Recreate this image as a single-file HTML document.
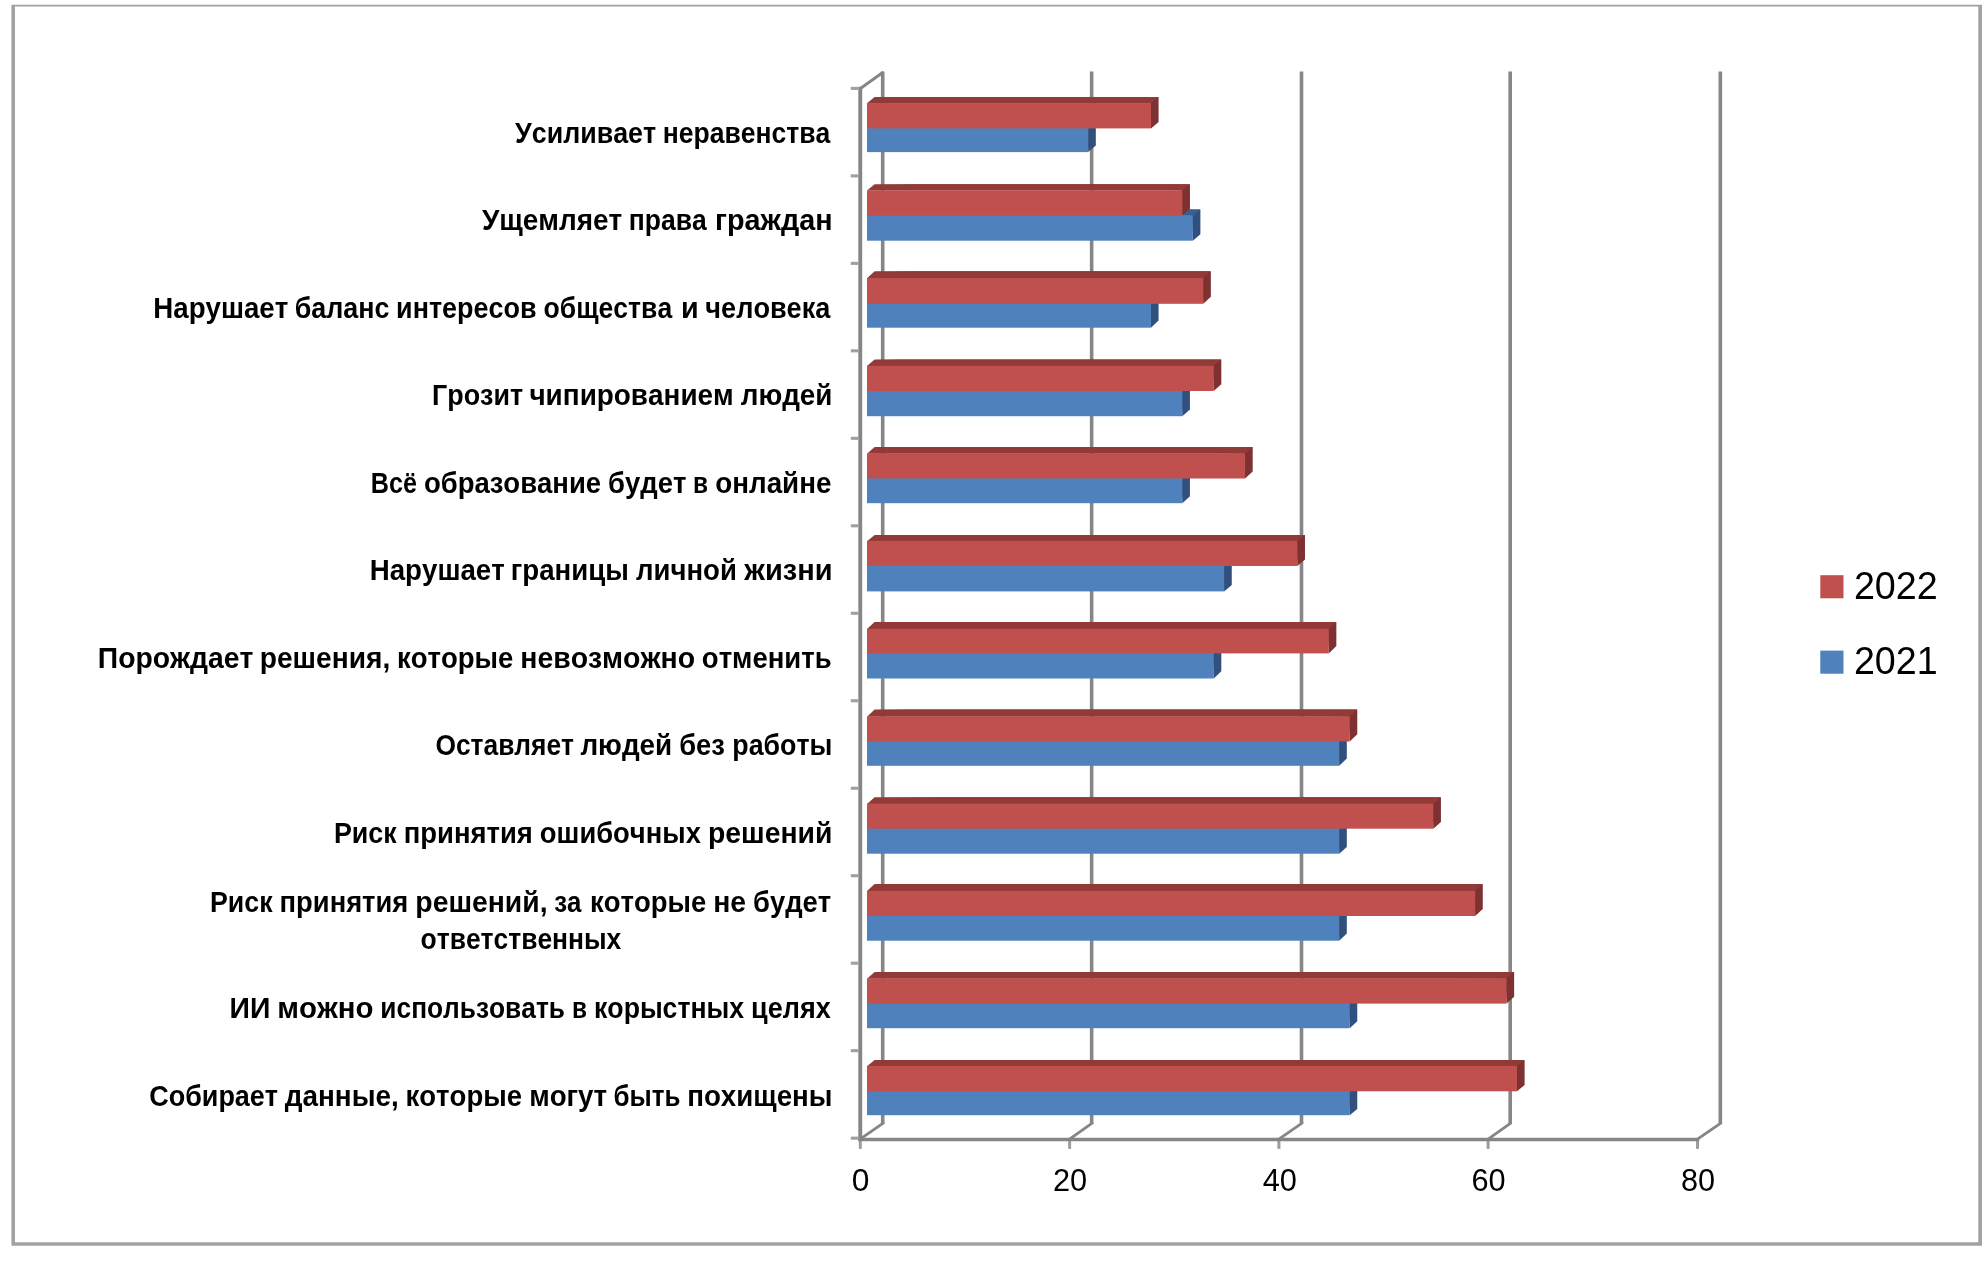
<!DOCTYPE html>
<html lang="ru"><head><meta charset="utf-8"><title>Диаграмма</title>
<style>html,body{margin:0;padding:0;background:#fff}body{width:1984px;height:1264px;overflow:hidden}svg{display:block;will-change:transform}</style>
</head><body>
<svg width="1984" height="1264" viewBox="0 0 1984 1264">
<rect x="0" y="0" width="1984" height="1264" fill="#fff"/>
<path fill="#A2A2A2" fill-rule="evenodd" d="M11.4,4.8H1982V1245.8H11.4Z M15,6.6V1242.3H1978.3V6.6Z"/>
<g fill="none" stroke="#868686" stroke-width="3.6" stroke-linecap="butt">
<path d="M882.70,71.40 V1123.70"/>
<path d="M883.20,1123.10 L860.10,1139.10" stroke-width="2.9" stroke-linecap="round"/>
<path d="M1091.65,71.40 V1123.70"/>
<path d="M1092.15,1123.10 L1069.60,1139.10" stroke-width="2.9" stroke-linecap="round"/>
<path d="M1069.60,1141.00 V1148.9" stroke-width="3" stroke="#9C9C9C"/>
<path d="M1301.50,71.40 V1123.70"/>
<path d="M1302.00,1123.10 L1278.90,1139.10" stroke-width="2.9" stroke-linecap="round"/>
<path d="M1278.90,1141.00 V1148.9" stroke-width="3" stroke="#9C9C9C"/>
<path d="M1510.20,71.40 V1123.70"/>
<path d="M1510.70,1123.10 L1488.10,1139.10" stroke-width="2.9" stroke-linecap="round"/>
<path d="M1488.10,1141.00 V1148.9" stroke-width="3" stroke="#9C9C9C"/>
<path d="M1720.30,71.40 V1123.70"/>
<path d="M1720.80,1123.10 L1697.50,1139.10" stroke-width="2.9" stroke-linecap="round"/>
<path d="M1697.50,1141.00 V1148.9" stroke-width="3" stroke="#9C9C9C"/>
<path d="M860.70,88.20 L882.40,72.80" stroke-width="2.9" stroke-linecap="round"/>
<path d="M860.25,86.80 V1141.00" stroke-width="3.9"/>
<path d="M860.30,1141.00 V1148.9" stroke-width="3" stroke="#9C9C9C"/>
<path d="M858.40,1139.50 H1699.20"/>
<path d="M850.8,88.40 H858.60" stroke-width="3.1" stroke="#A0A0A0"/>
<path d="M850.8,175.88 H858.60" stroke-width="3.1" stroke="#A0A0A0"/>
<path d="M850.8,263.36 H858.60" stroke-width="3.1" stroke="#A0A0A0"/>
<path d="M850.8,350.84 H858.60" stroke-width="3.1" stroke="#A0A0A0"/>
<path d="M850.8,438.32 H858.60" stroke-width="3.1" stroke="#A0A0A0"/>
<path d="M850.8,525.80 H858.60" stroke-width="3.1" stroke="#A0A0A0"/>
<path d="M850.8,613.28 H858.60" stroke-width="3.1" stroke="#A0A0A0"/>
<path d="M850.8,700.76 H858.60" stroke-width="3.1" stroke="#A0A0A0"/>
<path d="M850.8,788.24 H858.60" stroke-width="3.1" stroke="#A0A0A0"/>
<path d="M850.8,875.72 H858.60" stroke-width="3.1" stroke="#A0A0A0"/>
<path d="M850.8,963.20 H858.60" stroke-width="3.1" stroke="#A0A0A0"/>
<path d="M850.8,1050.68 H858.60" stroke-width="3.1" stroke="#A0A0A0"/>
<path d="M850.8,1138.16 H858.60" stroke-width="3.1" stroke="#A0A0A0"/>
</g>
<g>
<polygon points="874.30,122.32 1095.82,122.32 1095.82,145.62 1088.22,152.10 1087.22,128.40" fill="#32507D"/><polygon points="867.0,128.70 874.6,122.32 1095.62,122.32 1088.22,128.70" fill="#3A5F8C"/><rect x="867.0" y="128.40" width="221.22" height="23.70" fill="#4F81BD"/>
<rect x="867.0" y="126.90" width="221.22" height="3" fill="#4F81BD"/>
<polygon points="874.30,96.96 1158.57,96.96 1158.57,121.92 1150.97,128.40 1149.97,103.04" fill="#7D3131"/><polygon points="867.0,103.34 874.6,96.96 1158.37,96.96 1150.97,103.34" fill="#913A38"/><rect x="867.0" y="103.04" width="283.97" height="25.36" fill="#C0504D"/>
<polygon points="874.30,209.40 1200.40,209.40 1200.40,234.20 1192.80,240.70 1191.80,215.50" fill="#32507D"/><polygon points="867.0,215.80 874.6,209.40 1200.20,209.40 1192.80,215.80" fill="#3A5F8C"/><rect x="867.0" y="215.50" width="325.80" height="25.20" fill="#4F81BD"/>
<rect x="867.0" y="214.00" width="315.34" height="3" fill="#4F81BD"/>
<polygon points="874.30,184.20 1189.94,184.20 1189.94,209.00 1182.34,215.50 1181.34,190.30" fill="#7D3131"/><polygon points="867.0,190.60 874.6,184.20 1189.74,184.20 1182.34,190.60" fill="#913A38"/><rect x="867.0" y="190.30" width="315.34" height="25.20" fill="#C0504D"/>
<polygon points="874.30,297.10 1158.57,297.10 1158.57,320.60 1150.97,327.70 1149.97,303.80" fill="#32507D"/><polygon points="867.0,304.10 874.6,297.10 1158.37,297.10 1150.97,304.10" fill="#3A5F8C"/><rect x="867.0" y="303.80" width="283.97" height="23.90" fill="#4F81BD"/>
<rect x="867.0" y="302.30" width="283.97" height="3" fill="#4F81BD"/>
<polygon points="874.30,271.30 1210.86,271.30 1210.86,296.70 1203.26,303.80 1202.26,278.00" fill="#7D3131"/><polygon points="867.0,278.30 874.6,271.30 1210.66,271.30 1203.26,278.30" fill="#913A38"/><rect x="867.0" y="278.00" width="336.26" height="25.80" fill="#C0504D"/>
<polygon points="874.30,384.70 1189.94,384.70 1189.94,409.50 1182.34,416.20 1181.34,391.00" fill="#32507D"/><polygon points="867.0,391.30 874.6,384.70 1189.74,384.70 1182.34,391.30" fill="#3A5F8C"/><rect x="867.0" y="391.00" width="315.34" height="25.20" fill="#4F81BD"/>
<rect x="867.0" y="389.50" width="315.34" height="3" fill="#4F81BD"/>
<polygon points="874.30,359.50 1221.31,359.50 1221.31,384.30 1213.71,391.00 1212.71,365.80" fill="#7D3131"/><polygon points="867.0,366.10 874.6,359.50 1221.11,359.50 1213.71,366.10" fill="#913A38"/><rect x="867.0" y="365.80" width="346.71" height="25.20" fill="#C0504D"/>
<polygon points="874.30,472.00 1189.94,472.00 1189.94,496.30 1182.34,503.20 1181.34,478.50" fill="#32507D"/><polygon points="867.0,478.80 874.6,472.00 1189.74,472.00 1182.34,478.80" fill="#3A5F8C"/><rect x="867.0" y="478.50" width="315.34" height="24.70" fill="#4F81BD"/>
<rect x="867.0" y="477.00" width="315.34" height="3" fill="#4F81BD"/>
<polygon points="874.30,447.00 1252.69,447.00 1252.69,471.60 1245.09,478.50 1244.09,453.50" fill="#7D3131"/><polygon points="867.0,453.80 874.6,447.00 1252.49,447.00 1245.09,453.80" fill="#913A38"/><rect x="867.0" y="453.50" width="378.09" height="25.00" fill="#C0504D"/>
<polygon points="874.30,560.00 1231.77,560.00 1231.77,585.00 1224.17,591.40 1223.17,566.00" fill="#32507D"/><polygon points="867.0,566.30 874.6,560.00 1231.57,560.00 1224.17,566.30" fill="#3A5F8C"/><rect x="867.0" y="566.00" width="357.17" height="25.40" fill="#4F81BD"/>
<rect x="867.0" y="564.50" width="357.17" height="3" fill="#4F81BD"/>
<polygon points="874.30,534.90 1304.98,534.90 1304.98,559.60 1297.38,566.00 1296.38,540.90" fill="#7D3131"/><polygon points="867.0,541.20 874.6,534.90 1304.78,534.90 1297.38,541.20" fill="#913A38"/><rect x="867.0" y="540.90" width="430.38" height="25.10" fill="#C0504D"/>
<polygon points="874.30,646.50 1221.31,646.50 1221.31,671.20 1213.71,678.50 1212.71,653.40" fill="#32507D"/><polygon points="867.0,653.70 874.6,646.50 1221.11,646.50 1213.71,653.70" fill="#3A5F8C"/><rect x="867.0" y="653.40" width="346.71" height="25.10" fill="#4F81BD"/>
<rect x="867.0" y="651.90" width="346.71" height="3" fill="#4F81BD"/>
<polygon points="874.30,621.90 1336.35,621.90 1336.35,646.10 1328.75,653.40 1327.75,628.80" fill="#7D3131"/><polygon points="867.0,629.10 874.6,621.90 1336.15,621.90 1328.75,629.10" fill="#913A38"/><rect x="867.0" y="628.80" width="461.75" height="24.60" fill="#C0504D"/>
<polygon points="874.30,734.60 1346.81,734.60 1346.81,758.50 1339.21,765.80 1338.21,741.50" fill="#32507D"/><polygon points="867.0,741.80 874.6,734.60 1346.61,734.60 1339.21,741.80" fill="#3A5F8C"/><rect x="867.0" y="741.50" width="472.21" height="24.30" fill="#4F81BD"/>
<rect x="867.0" y="740.00" width="472.21" height="3" fill="#4F81BD"/>
<polygon points="874.30,709.60 1357.27,709.60 1357.27,734.20 1349.67,741.50 1348.67,716.50" fill="#7D3131"/><polygon points="867.0,716.80 874.6,709.60 1357.07,709.60 1349.67,716.80" fill="#913A38"/><rect x="867.0" y="716.50" width="482.67" height="25.00" fill="#C0504D"/>
<polygon points="874.30,822.40 1346.81,822.40 1346.81,847.00 1339.21,853.70 1338.21,828.70" fill="#32507D"/><polygon points="867.0,829.00 874.6,822.40 1346.61,822.40 1339.21,829.00" fill="#3A5F8C"/><rect x="867.0" y="828.70" width="472.21" height="25.00" fill="#4F81BD"/>
<rect x="867.0" y="827.20" width="472.21" height="3" fill="#4F81BD"/>
<polygon points="874.30,797.30 1440.93,797.30 1440.93,822.00 1433.33,828.70 1432.33,803.60" fill="#7D3131"/><polygon points="867.0,803.90 874.6,797.30 1440.73,797.30 1433.33,803.90" fill="#913A38"/><rect x="867.0" y="803.60" width="566.33" height="25.10" fill="#C0504D"/>
<polygon points="874.30,909.30 1346.81,909.30 1346.81,933.60 1339.21,940.70 1338.21,916.00" fill="#32507D"/><polygon points="867.0,916.30 874.6,909.30 1346.61,909.30 1339.21,916.30" fill="#3A5F8C"/><rect x="867.0" y="916.00" width="472.21" height="24.70" fill="#4F81BD"/>
<rect x="867.0" y="914.50" width="472.21" height="3" fill="#4F81BD"/>
<polygon points="874.30,884.10 1482.76,884.10 1482.76,908.90 1475.16,916.00 1474.16,890.80" fill="#7D3131"/><polygon points="867.0,891.10 874.6,884.10 1482.56,884.10 1475.16,891.10" fill="#913A38"/><rect x="867.0" y="890.80" width="608.16" height="25.20" fill="#C0504D"/>
<polygon points="874.30,997.10 1357.27,997.10 1357.27,1021.30 1349.67,1028.20 1348.67,1003.60" fill="#32507D"/><polygon points="867.0,1003.90 874.6,997.10 1357.07,997.10 1349.67,1003.90" fill="#3A5F8C"/><rect x="867.0" y="1003.60" width="482.67" height="24.60" fill="#4F81BD"/>
<rect x="867.0" y="1002.10" width="482.67" height="3" fill="#4F81BD"/>
<polygon points="874.30,972.00 1514.14,972.00 1514.14,996.70 1506.54,1003.60 1505.54,978.50" fill="#7D3131"/><polygon points="867.0,978.80 874.6,972.00 1513.94,972.00 1506.54,978.80" fill="#913A38"/><rect x="867.0" y="978.50" width="639.54" height="25.10" fill="#C0504D"/>
<polygon points="874.30,1085.50 1357.27,1085.50 1357.27,1109.00 1349.67,1115.20 1348.67,1091.30" fill="#32507D"/><polygon points="867.0,1091.60 874.6,1085.50 1357.07,1085.50 1349.67,1091.60" fill="#3A5F8C"/><rect x="867.0" y="1091.30" width="482.67" height="23.90" fill="#4F81BD"/>
<rect x="867.0" y="1089.80" width="482.67" height="3" fill="#4F81BD"/>
<polygon points="874.30,1060.10 1524.60,1060.10 1524.60,1085.10 1517.00,1091.30 1516.00,1065.90" fill="#7D3131"/><polygon points="867.0,1066.20 874.6,1060.10 1524.40,1060.10 1517.00,1066.20" fill="#913A38"/><rect x="867.0" y="1065.90" width="650.00" height="25.40" fill="#C0504D"/>
</g>
<g font-family="'Liberation Sans', sans-serif" fill="#000" style="font-kerning:none">
<text y="142.60" font-size="28.8" font-weight="bold"><tspan x="515.09" textLength="141.09" lengthAdjust="spacingAndGlyphs">Усиливает</tspan> <tspan x="662.69" textLength="167.64" lengthAdjust="spacingAndGlyphs">неравенства</tspan></text>
<text y="230.15" font-size="28.8" font-weight="bold"><tspan x="481.89" textLength="140.42" lengthAdjust="spacingAndGlyphs">Ущемляет</tspan> <tspan x="628.72" textLength="77.95" lengthAdjust="spacingAndGlyphs">права</tspan> <tspan x="715.05" textLength="117.46" lengthAdjust="spacingAndGlyphs">граждан</tspan></text>
<text y="317.70" font-size="28.8" font-weight="bold"><tspan x="153.35" textLength="134.94" lengthAdjust="spacingAndGlyphs">Нарушает</tspan> <tspan x="294.72" textLength="94.76" lengthAdjust="spacingAndGlyphs">баланс</tspan> <tspan x="396.11" textLength="140.38" lengthAdjust="spacingAndGlyphs">интересов</tspan> <tspan x="543.59" textLength="128.56" lengthAdjust="spacingAndGlyphs">общества</tspan> <tspan x="680.91" textLength="17.66" lengthAdjust="spacingAndGlyphs">и</tspan> <tspan x="705.35" textLength="124.97" lengthAdjust="spacingAndGlyphs">человека</tspan></text>
<text y="405.25" font-size="28.8" font-weight="bold"><tspan x="432.10" textLength="91.05" lengthAdjust="spacingAndGlyphs">Грозит</tspan> <tspan x="529.43" textLength="204.30" lengthAdjust="spacingAndGlyphs">чипированием</tspan> <tspan x="740.73" textLength="91.70" lengthAdjust="spacingAndGlyphs">людей</tspan></text>
<text y="492.80" font-size="28.8" font-weight="bold"><tspan x="370.72" textLength="46.16" lengthAdjust="spacingAndGlyphs">Всё</tspan> <tspan x="423.92" textLength="177.17" lengthAdjust="spacingAndGlyphs">образование</tspan> <tspan x="608.10" textLength="78.31" lengthAdjust="spacingAndGlyphs">будет</tspan> <tspan x="693.12" textLength="15.02" lengthAdjust="spacingAndGlyphs">в</tspan> <tspan x="715.28" textLength="116.17" lengthAdjust="spacingAndGlyphs">онлайне</tspan></text>
<text y="580.35" font-size="28.8" font-weight="bold"><tspan x="369.75" textLength="135.03" lengthAdjust="spacingAndGlyphs">Нарушает</tspan> <tspan x="510.87" textLength="118.03" lengthAdjust="spacingAndGlyphs">границы</tspan> <tspan x="636.07" textLength="100.80" lengthAdjust="spacingAndGlyphs">личной</tspan> <tspan x="744.33" textLength="88.18" lengthAdjust="spacingAndGlyphs">жизни</tspan></text>
<text y="667.90" font-size="28.8" font-weight="bold"><tspan x="97.81" textLength="155.51" lengthAdjust="spacingAndGlyphs">Порождает</tspan> <tspan x="259.79" textLength="130.46" lengthAdjust="spacingAndGlyphs">решения,</tspan> <tspan x="397.00" textLength="116.27" lengthAdjust="spacingAndGlyphs">которые</tspan> <tspan x="520.27" textLength="174.81" lengthAdjust="spacingAndGlyphs">невозможно</tspan> <tspan x="701.86" textLength="129.78" lengthAdjust="spacingAndGlyphs">отменить</tspan></text>
<text y="755.45" font-size="28.8" font-weight="bold"><tspan x="435.42" textLength="138.62" lengthAdjust="spacingAndGlyphs">Оставляет</tspan> <tspan x="580.40" textLength="91.82" lengthAdjust="spacingAndGlyphs">людей</tspan> <tspan x="679.20" textLength="45.72" lengthAdjust="spacingAndGlyphs">без</tspan> <tspan x="732.35" textLength="100.02" lengthAdjust="spacingAndGlyphs">работы</tspan></text>
<text y="843.00" font-size="28.8" font-weight="bold"><tspan x="333.90" textLength="62.82" lengthAdjust="spacingAndGlyphs">Риск</tspan> <tspan x="403.74" textLength="129.14" lengthAdjust="spacingAndGlyphs">принятия</tspan> <tspan x="539.85" textLength="161.04" lengthAdjust="spacingAndGlyphs">ошибочных</tspan> <tspan x="708.04" textLength="124.43" lengthAdjust="spacingAndGlyphs">решений</tspan></text>
<text y="911.75" font-size="28.8" font-weight="bold"><tspan x="210.01" textLength="62.60" lengthAdjust="spacingAndGlyphs">Риск</tspan> <tspan x="279.60" textLength="128.69" lengthAdjust="spacingAndGlyphs">принятия</tspan> <tspan x="415.36" textLength="132.15" lengthAdjust="spacingAndGlyphs">решений,</tspan> <tspan x="554.17" textLength="27.21" lengthAdjust="spacingAndGlyphs">за</tspan> <tspan x="590.08" textLength="116.13" lengthAdjust="spacingAndGlyphs">которые</tspan> <tspan x="713.19" textLength="32.89" lengthAdjust="spacingAndGlyphs">не</tspan> <tspan x="753.05" textLength="78.21" lengthAdjust="spacingAndGlyphs">будет</tspan></text>
<text y="949.35" font-size="28.8" font-weight="bold"><tspan x="420.57" textLength="200.73" lengthAdjust="spacingAndGlyphs">ответственных</tspan></text>
<text y="1018.10" font-size="28.8" font-weight="bold"><tspan x="229.61" textLength="40.82" lengthAdjust="spacingAndGlyphs">ИИ</tspan> <tspan x="277.38" textLength="96.08" lengthAdjust="spacingAndGlyphs">можно</tspan> <tspan x="380.37" textLength="184.59" lengthAdjust="spacingAndGlyphs">использовать</tspan> <tspan x="571.90" textLength="14.98" lengthAdjust="spacingAndGlyphs">в</tspan> <tspan x="594.05" textLength="150.03" lengthAdjust="spacingAndGlyphs">корыстных</tspan> <tspan x="751.07" textLength="79.63" lengthAdjust="spacingAndGlyphs">целях</tspan></text>
<text y="1105.65" font-size="28.8" font-weight="bold"><tspan x="149.19" textLength="128.89" lengthAdjust="spacingAndGlyphs">Собирает</tspan> <tspan x="284.71" textLength="114.06" lengthAdjust="spacingAndGlyphs">данные,</tspan> <tspan x="405.56" textLength="116.44" lengthAdjust="spacingAndGlyphs">которые</tspan> <tspan x="529.18" textLength="77.89" lengthAdjust="spacingAndGlyphs">могут</tspan> <tspan x="613.54" textLength="67.04" lengthAdjust="spacingAndGlyphs">быть</tspan> <tspan x="687.23" textLength="145.20" lengthAdjust="spacingAndGlyphs">похищены</tspan></text>
<text y="1191.10" font-size="31.1" font-weight="normal"><tspan x="851.88" textLength="17.63" lengthAdjust="spacingAndGlyphs">0</tspan></text>
<text y="1191.10" font-size="31.1" font-weight="normal"><tspan x="1052.96" textLength="34.14" lengthAdjust="spacingAndGlyphs">20</tspan></text>
<text y="1191.10" font-size="31.1" font-weight="normal"><tspan x="1262.63" textLength="34.23" lengthAdjust="spacingAndGlyphs">40</tspan></text>
<text y="1191.10" font-size="31.1" font-weight="normal"><tspan x="1471.44" textLength="34.16" lengthAdjust="spacingAndGlyphs">60</tspan></text>
<text y="1191.10" font-size="31.1" font-weight="normal"><tspan x="1680.99" textLength="34.09" lengthAdjust="spacingAndGlyphs">80</tspan></text>
<text y="598.90" font-size="38.4" font-weight="normal"><tspan x="1853.90" textLength="83.91" lengthAdjust="spacingAndGlyphs">2022</tspan></text>
<text y="674.00" font-size="38.4" font-weight="normal"><tspan x="1853.91" textLength="83.75" lengthAdjust="spacingAndGlyphs">2021</tspan></text>
</g>
<rect x="1820.3" y="575.2" width="23.2" height="23.1" fill="#C0504D"/>
<rect x="1820.3" y="650.6" width="23.2" height="23.1" fill="#4F81BD"/>
</svg>
</body></html>
